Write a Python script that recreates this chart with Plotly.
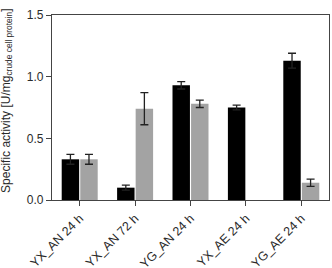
import plotly.graph_objects as go

categories = ["YX_AN 24 h", "YX_AN 72 h", "YG_AN 24 h", "YX_AE 24 h", "YG_AE 24 h"]
series_black = [0.33, 0.10, 0.93, 0.75, 1.13]
err_black = [0.04, 0.02, 0.03, 0.02, 0.06]
series_gray = [0.33, 0.74, 0.78, None, 0.14]
err_gray = [0.04, 0.13, 0.03, None, 0.03]
y_ticks = [0.0, 0.5, 1.0, 1.5]
y_ticklabels = ["0.0", "0.5", "1.0", "1.5"]
y_title = "Specific activity [U/mg<sub>crude cell protein</sub>]"

fig = go.Figure()
fig.add_bar(x=categories, y=series_black, marker_color="#000000", marker_line_width=0,
            error_y=dict(type="data", array=err_black, color="#222222", thickness=1.3, width=4))
fig.add_bar(x=categories, y=series_gray, marker_color="#a3a3a3", marker_line_width=0,
            error_y=dict(type="data", array=err_gray, color="#222222", thickness=1.3, width=4))
fig.update_layout(
    width=332, height=268, showlegend=False,
    margin=dict(l=52, r=3, t=15, b=68),
    plot_bgcolor="white", paper_bgcolor="white",
    barmode="group", bargap=0.33, bargroupgap=0.06,
    font=dict(family="Liberation Sans, Arial", color="#2a2a2a"),
)
fig.update_xaxes(showline=True, linecolor="#444444", linewidth=1.2, mirror=True, automargin=False,
                 ticks="outside", ticklen=5, tickcolor="#444444", tickangle=-45,
                 tickfont=dict(size=12.5, color="#2a2a2a"), range=[-0.5, 4.5])
fig.update_yaxes(showline=True, linecolor="#444444", linewidth=1.2, mirror=True, automargin=False,
                 ticks="outside", ticklen=5, tickcolor="#444444", showgrid=False, zeroline=False,
                 range=[0, 1.5], tickvals=y_ticks, ticktext=y_ticklabels,
                 tickfont=dict(size=12, color="#2a2a2a"))
fig.add_annotation(text=y_title, xref="paper", yref="paper", x=-0.163, y=0.54,
                   xanchor="center", yanchor="middle", textangle=-90, showarrow=False,
                   font=dict(size=12, color="#2a2a2a"))
fig.write_html("out.html", config={"displayModeBar": False},
               post_script="document.body.style.margin='0';document.body.style.overflow='hidden';")
